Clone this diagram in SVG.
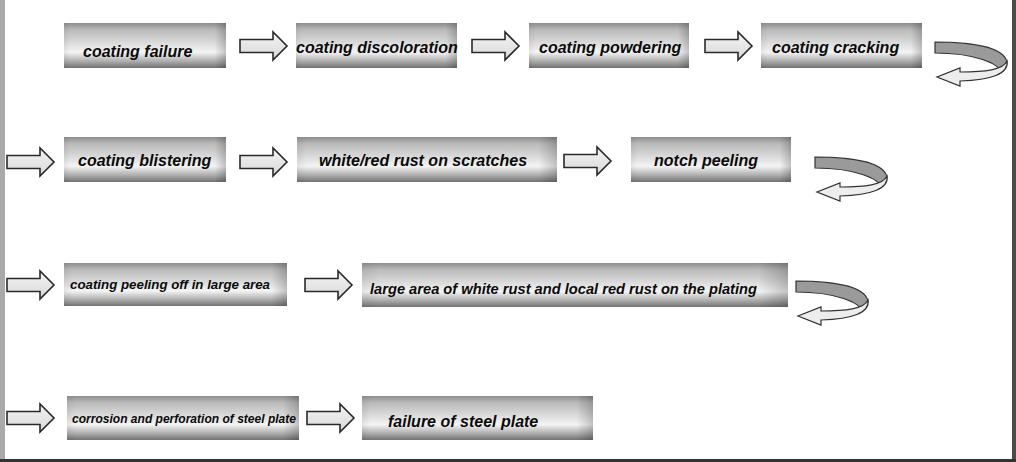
<svg xmlns="http://www.w3.org/2000/svg" xmlns:xlink="http://www.w3.org/1999/xlink" width="1016" height="462" viewBox="0 0 1016 462">
<style>
.box{fill:url(#cyl)}
.shade{fill:url(#ends)}
.lbl{font-family:"Liberation Sans",Arial,sans-serif;font-weight:bold;font-style:italic;font-size:16px;fill:#0a0a0a}
.sm{font-size:13px}
.arr{fill:url(#arrfill);stroke:#2a2a2a;stroke-width:1.6;stroke-linejoin:miter}
.back{fill:#9a9a9a;stroke:#333;stroke-width:1.2}
.front{fill:#ededed;stroke:#333;stroke-width:1.2}
</style>
<defs>
<linearGradient id="cyl" x1="0" y1="0" x2="0" y2="1">
<stop offset="0" stop-color="#8e8e8e"/>
<stop offset="0.15" stop-color="#bababa"/>
<stop offset="0.4" stop-color="#d6d6d6"/>
<stop offset="0.65" stop-color="#f4f4f4"/>
<stop offset="0.85" stop-color="#adadad"/>
<stop offset="1" stop-color="#727272"/>
</linearGradient>
<linearGradient id="ends" x1="0" y1="0" x2="1" y2="0">
<stop offset="0" stop-color="#000" stop-opacity="0.06"/>
<stop offset="0.04" stop-color="#000" stop-opacity="0"/>
<stop offset="0.93" stop-color="#000" stop-opacity="0"/>
<stop offset="1" stop-color="#000" stop-opacity="0.2"/>
</linearGradient>
<linearGradient id="arrfill" x1="0" y1="0" x2="0" y2="1">
<stop offset="0" stop-color="#f4f4f4"/>
<stop offset="1" stop-color="#d8d8d8"/>
</linearGradient>
<path id="sarrow" class="arr" d="M0,-6.5 L33,-6.5 L33,-14 L47,0 L33,14 L33,6.5 L0,6.5 Z"/>
<g id="uturn">
<path class="back" d="M0,0 C40,0 69,6 72,20 C72,24 69,28 65,30 C65,22 40,11 0,11 Z"/>
<path class="front" d="M72,19 C68,28 50,30 25,30 L25,26 L2,35 L25,44 L25,39 C56,38 74,32 72,19 Z"/>
</g>
</defs>
<rect width="1016" height="462" fill="#fff"/>
<rect x="0" y="0" width="5" height="462" fill="#a9a9a9"/>
<rect x="1012" y="0" width="4" height="462" fill="#4a4a4a"/>
<rect x="0" y="459" width="1016" height="3" fill="#333"/>

<g id="n1"><rect class="box" x="64" y="23" width="162" height="45"/><rect class="shade" x="64" y="23" width="162" height="45"/><text class="lbl" x="83" y="57">coating failure</text></g>
<g id="n2"><rect class="box" x="296" y="23" width="161" height="45"/><rect class="shade" x="296" y="23" width="161" height="45"/><text class="lbl" x="296" y="53">coating discoloration</text></g>
<g id="n3"><rect class="box" x="529" y="23" width="160" height="45"/><rect class="shade" x="529" y="23" width="160" height="45"/><text class="lbl" x="539" y="53">coating powdering</text></g>
<g id="n4"><rect class="box" x="761" y="23" width="161" height="45"/><rect class="shade" x="761" y="23" width="161" height="45"/><text class="lbl" x="772" y="53">coating cracking</text></g>

<g id="n5"><rect class="box" x="64" y="137" width="162" height="45"/><rect class="shade" x="64" y="137" width="162" height="45"/><text class="lbl" x="78" y="166">coating blistering</text></g>
<g id="n6"><rect class="box" x="297" y="137" width="260" height="45"/><rect class="shade" x="297" y="137" width="260" height="45"/><text class="lbl" x="319" y="166">white/red rust on scratches</text></g>
<g id="n7"><rect class="box" x="631" y="137" width="160" height="45"/><rect class="shade" x="631" y="137" width="160" height="45"/><text class="lbl" x="654" y="166">notch peeling</text></g>

<g id="n8"><rect class="box" x="64" y="263" width="223" height="43"/><rect class="shade" x="64" y="263" width="223" height="43"/><text class="lbl sm" x="70" y="289" textLength="200" lengthAdjust="spacingAndGlyphs">coating peeling off in large area</text></g>
<g id="n9"><rect class="box" x="362" y="263" width="426" height="44"/><rect class="shade" x="362" y="263" width="426" height="44"/><text class="lbl" x="370" y="294" style="font-size:14.6px" textLength="387" lengthAdjust="spacingAndGlyphs">large area of white rust and local red rust on the plating</text></g>

<g id="n10"><rect class="box" x="67" y="396" width="232" height="44"/><rect class="shade" x="67" y="396" width="232" height="44"/><text class="lbl" x="72" y="423" style="font-size:12.5px" textLength="224" lengthAdjust="spacingAndGlyphs">corrosion and perforation of steel plate</text></g>
<g id="n11"><rect class="box" x="362" y="396" width="231" height="44"/><rect class="shade" x="362" y="396" width="231" height="44"/><text class="lbl" x="388" y="427">failure of steel plate</text></g>

<g id="connectors">
<use xlink:href="#sarrow" href="#sarrow" transform="translate(240,46)"/>
<use xlink:href="#sarrow" href="#sarrow" transform="translate(472,46)"/>
<use xlink:href="#sarrow" href="#sarrow" transform="translate(705,46)"/>
<use xlink:href="#uturn" href="#uturn" transform="translate(935,42)"/>
<use xlink:href="#sarrow" href="#sarrow" transform="translate(7,162)"/>
<use xlink:href="#sarrow" href="#sarrow" transform="translate(240,162)"/>
<use xlink:href="#sarrow" href="#sarrow" transform="translate(564,161)"/>
<use xlink:href="#uturn" href="#uturn" transform="translate(815,157)"/>
<use xlink:href="#sarrow" href="#sarrow" transform="translate(7,285)"/>
<use xlink:href="#sarrow" href="#sarrow" transform="translate(305,285)"/>
<use xlink:href="#uturn" href="#uturn" transform="translate(796,281)"/>
<use xlink:href="#sarrow" href="#sarrow" transform="translate(7,418)"/>
<use xlink:href="#sarrow" href="#sarrow" transform="translate(307,418)"/>
</g>
</svg>
